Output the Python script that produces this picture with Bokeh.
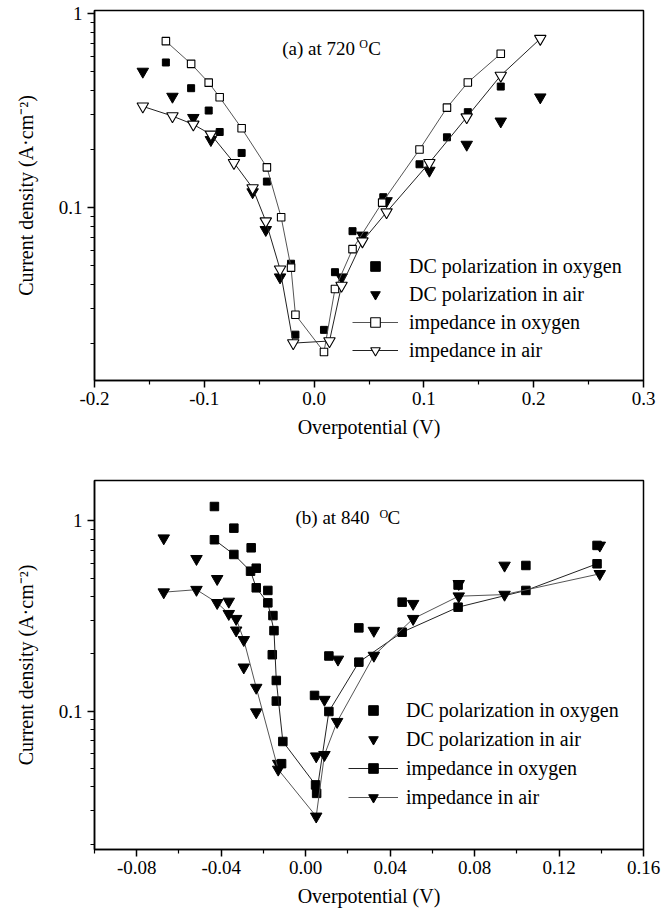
from bokeh.plotting import figure
from bokeh.layouts import column
from bokeh.models import (Range1d, FixedTicker, PrintfTickFormatter, Legend,
                          LegendItem, Label)
from bokeh.embed import file_html
from bokeh.resources import INLINE

FONT = "Liberation Serif"

# ---------------- (a) 720 oC ----------------
a_dc_o2_x = [-0.135, -0.112, -0.096, -0.086, -0.066, -0.043, -0.021, -0.017,
             0.009, 0.019, 0.035, 0.063, 0.096, 0.121, 0.140, 0.170]
a_dc_o2_y = [0.559, 0.412, 0.316, 0.245, 0.191, 0.136, 0.0513, 0.0221,
             0.0234, 0.0464, 0.0755, 0.113, 0.167, 0.230, 0.310, 0.420]

a_dc_air_x = [-0.156, -0.129, -0.110, -0.094, -0.056, -0.044, -0.031,
              0.025, 0.044, 0.066, 0.105, 0.139, 0.170, 0.206]
a_dc_air_y = [0.502, 0.373, 0.290, 0.223, 0.120, 0.0767, 0.0437,
              0.0437, 0.0718, 0.108, 0.155, 0.211, 0.278, 0.370]

a_imp_o2_x = [-0.135, -0.112, -0.096, -0.086, -0.066, -0.043, -0.030, -0.021,
              -0.017, 0.009, 0.019, 0.035, 0.062, 0.096, 0.121, 0.140, 0.170]
a_imp_o2_y = [0.72, 0.55, 0.44, 0.37, 0.256, 0.161, 0.089, 0.049,
              0.028, 0.018, 0.038, 0.061, 0.106, 0.199, 0.327, 0.441, 0.62]

a_imp_air_x = [-0.156, -0.129, -0.110, -0.094, -0.073, -0.056, -0.044, -0.031,
               -0.019, 0.014, 0.025, 0.044, 0.066, 0.105, 0.139, 0.170, 0.206]
a_imp_air_y = [0.332, 0.296, 0.268, 0.238, 0.170, 0.126, 0.085, 0.048,
               0.020, 0.0205, 0.0396, 0.067, 0.0946, 0.170, 0.292, 0.479, 0.741]

# ---------------- (b) 840 oC ----------------
b_dc_o2_x = [-0.0432, -0.0340, -0.0258, -0.0234, -0.0179, -0.0155, -0.0158,
             -0.0139, -0.0114, 0.0042, 0.0110, 0.0252, 0.0457, 0.0722, 0.1043, 0.1380]
b_dc_o2_y = [1.19, 0.916, 0.722, 0.564, 0.431, 0.318, 0.198,
             0.113, 0.053, 0.121, 0.195, 0.274, 0.374, 0.46, 0.583, 0.743]

b_dc_air_x = [-0.0672, -0.0517, -0.0419, -0.0364, -0.0329, -0.0293, -0.0234,
              -0.0130, 0.0050, 0.0089, 0.0153, 0.0323, 0.0509, 0.0725, 0.0942, 0.1393]
b_dc_air_y = [0.811, 0.632, 0.496, 0.377, 0.266, 0.170, 0.0988,
              0.053, 0.058, 0.115, 0.187, 0.265, 0.367, 0.467, 0.583, 0.743]

b_imp_o2_x = [-0.0432, -0.0340, -0.0261, -0.0234, -0.0179, -0.0150, -0.0139,
              -0.0108, 0.0047, 0.0052, 0.0110, 0.0252, 0.0457, 0.0722, 0.1043, 0.1380]
b_imp_o2_y = [0.796, 0.666, 0.544, 0.445, 0.371, 0.265, 0.145,
              0.0693, 0.041, 0.037, 0.0996, 0.181, 0.260, 0.352, 0.431, 0.595]

b_imp_air_x = [-0.0672, -0.0517, -0.0419, -0.0364, -0.0329, -0.0293, -0.0234,
               -0.0130, 0.0050, 0.0089, 0.0149, 0.0323, 0.0509, 0.0725, 0.0942, 0.1393]
b_imp_air_y = [0.422, 0.435, 0.371, 0.325, 0.306, 0.237, 0.133,
               0.0494, 0.028, 0.059, 0.088, 0.196, 0.306, 0.402, 0.410, 0.527]

legend_labels = ["DC polarization in oxygen", "DC polarization in air",
                 "impedance in oxygen", "impedance in air"]
x_label = "Overpotential (V)"
y_label = "Current density (A\u00b7cm\u207b\u00b2)"

a_xticks = [-0.2, -0.1, 0.0, 0.1, 0.2, 0.3]
a_xminor = [-0.15, -0.05, 0.05, 0.15, 0.25]
b_xticks = [-0.08, -0.04, 0.0, 0.04, 0.08, 0.12, 0.16]
b_xminor = [-0.10, -0.06, -0.02, 0.02, 0.06, 0.10, 0.14]
y_ticks = [0.01, 0.1, 1.0]
y_minor = [m * d for d in (0.01, 0.1) for m in range(2, 10)]


def make_panel(height, top, bottom, xr, yr, xticks, xminor, xfmt):
    p = figure(width=669, height=height, y_axis_type="log",
               x_range=Range1d(*xr), y_range=Range1d(*yr),
               output_backend="svg", toolbar_location=None,
               min_border_left=94, min_border_right=26,
               min_border_top=top, min_border_bottom=bottom)
    p.background_fill_color = "white"
    p.border_fill_color = "white"
    p.outline_line_color = "black"
    p.outline_line_width = 1.5
    p.xgrid.visible = False
    p.ygrid.visible = False
    p.xaxis.ticker = FixedTicker(ticks=xticks, minor_ticks=xminor)
    p.xaxis.formatter = PrintfTickFormatter(format=xfmt)
    p.yaxis.ticker = FixedTicker(ticks=y_ticks, minor_ticks=y_minor)
    p.yaxis.formatter = PrintfTickFormatter(format="%g")
    p.xaxis.axis_label = x_label
    p.yaxis.axis_label = y_label
    for ax in (p.xaxis[0], p.yaxis[0]):
        ax.axis_line_color = "black"
        ax.axis_line_width = 1.5
        ax.major_tick_line_color = "black"
        ax.major_tick_line_width = 1.5
        ax.minor_tick_line_color = "black"
        ax.minor_tick_line_width = 1.2
        ax.major_tick_in = 0
        ax.major_tick_out = 7
        ax.minor_tick_in = 0
        ax.minor_tick_out = 4
        ax.major_label_text_font = FONT
        ax.major_label_text_font_size = "19px"
        ax.major_label_text_color = "black"
        ax.axis_label_text_font = FONT
        ax.axis_label_text_font_size = "20px"
        ax.axis_label_text_font_style = "normal"
        ax.axis_label_text_color = "black"
    p.xaxis.major_label_standoff = 4
    p.xaxis.axis_label_standoff = 8
    p.yaxis.major_label_standoff = 5
    p.yaxis.axis_label_standoff = 19
    return p


def add_legend(p, items, loc, gw, spacing, standoff):
    leg = Legend(items=items, location=loc, orientation="vertical",
                 glyph_width=gw, glyph_height=24, label_height=24,
                 spacing=spacing, padding=0, margin=0,
                 label_standoff=standoff, border_line_color=None,
                 background_fill_alpha=0, label_text_font=FONT,
                 label_text_font_size="20px", label_text_color="black")
    p.add_layout(leg)


def add_title(p, x, y, main, o_dx, c_dx, o_dy):
    common = dict(x=x, y=y, text_baseline="alphabetic", text_align="left",
                  text_font=FONT, text_color="black")
    p.add_layout(Label(text=main, text_font_size="19px", **common))
    p.add_layout(Label(text="O", text_font_size="12px", x_offset=o_dx,
                       y_offset=o_dy, **common))
    p.add_layout(Label(text="C", text_font_size="19px", x_offset=c_dx, **common))


# ---- panel (a) ----
pa = make_panel(460, 10, 80, (-0.2, 0.3), (0.01283, 1.036),
                a_xticks, a_xminor, "%.1f")
ra_dc_o2 = pa.scatter(a_dc_o2_x, a_dc_o2_y, marker="square", size=7,
                      fill_color="black", line_color="black")
ra_dc_air = pa.scatter(a_dc_air_x, a_dc_air_y, marker="inverted_triangle",
                       size=11.5, fill_color="black", line_color="black")
la_o2 = pa.line(a_imp_o2_x, a_imp_o2_y, line_color="#555555", line_width=1)
ra_o2 = pa.scatter(a_imp_o2_x, a_imp_o2_y, marker="square", size=7.5,
                   fill_color="white", line_color="black", line_width=1.1)
la_air = pa.line(a_imp_air_x, a_imp_air_y, line_color="#222222", line_width=1)
ra_air = pa.scatter(a_imp_air_x, a_imp_air_y, marker="inverted_triangle",
                    size=11.5, fill_color="white", line_color="black",
                    line_width=1.1)
add_legend(pa, [LegendItem(label=legend_labels[0], renderers=[ra_dc_o2]),
                LegendItem(label=legend_labels[1], renderers=[ra_dc_air]),
                LegendItem(label=legend_labels[2], renderers=[la_o2, ra_o2]),
                LegendItem(label=legend_labels[3], renderers=[la_air, ra_air])],
           (258, 18), 46, 4, 11)
add_title(pa, -0.029, 0.658, "(a) at 720", 77, 86, 5)

# ---- panel (b) ----
pb = make_panel(456, 20, 67, (-0.1, 0.16), (0.01876, 1.630),
                b_xticks, b_xminor, "%.2f")
rb_dc_o2 = pb.scatter(b_dc_o2_x, b_dc_o2_y, marker="square", size=8.5,
                      fill_color="black", line_color="black")
rb_dc_air = pb.scatter(b_dc_air_x, b_dc_air_y, marker="inverted_triangle",
                       size=11.5, fill_color="black", line_color="black")
lb_o2 = pb.line(b_imp_o2_x, b_imp_o2_y, line_color="#222222", line_width=1)
rb_o2 = pb.scatter(b_imp_o2_x, b_imp_o2_y, marker="square", size=8.5,
                   fill_color="black", line_color="black")
lb_air = pb.line(b_imp_air_x, b_imp_air_y, line_color="#555555", line_width=1)
rb_air = pb.scatter(b_imp_air_x, b_imp_air_y, marker="inverted_triangle",
                    size=11.5, fill_color="black", line_color="black")
add_legend(pb, [LegendItem(label=legend_labels[0], renderers=[rb_dc_o2]),
                LegendItem(label=legend_labels[1], renderers=[rb_dc_air]),
                LegendItem(label=legend_labels[2], renderers=[lb_o2, rb_o2]),
                LegendItem(label=legend_labels[3], renderers=[lb_air, rb_air])],
           (254, 40), 50, 5, 8)
add_title(pb, -0.0048, 1.038, "(b) at 840", 84, 92, 4)

layout = column(pa, pb, spacing=0)
open("out.html", "w").write(file_html(layout, INLINE))
